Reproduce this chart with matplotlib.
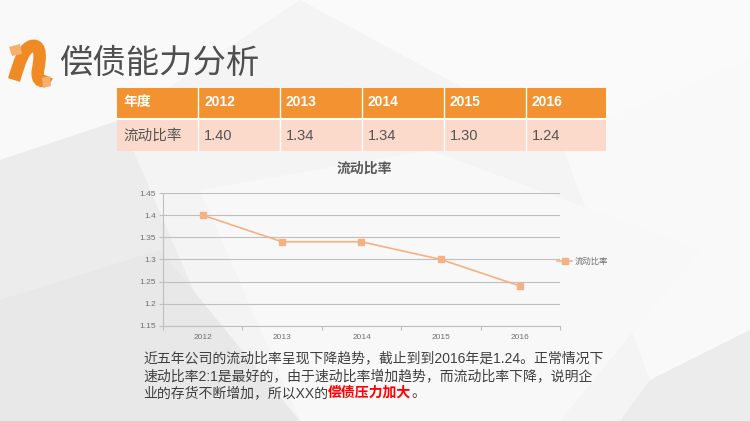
import matplotlib
matplotlib.use("Agg")
import matplotlib.pyplot as plt
from matplotlib.patches import Polygon, Rectangle, PathPatch
from matplotlib.path import Path
from matplotlib.lines import Line2D

plt.rcParams['font.family'] = ['Liberation Sans', 'Noto Sans CJK SC', 'DejaVu Sans']

# ---- data ----
years = ['2012', '2013', '2014', '2015', '2016']
ratio = [1.40, 1.34, 1.34, 1.30, 1.24]
ratio_labels = ['1.40', '1.34', '1.34', '1.30', '1.24']
row_header = '年度'
row_name = '流动比率'
yticks = [1.15, 1.2, 1.25, 1.3, 1.35, 1.4, 1.45]
ytick_labels = ['1.15', '1.2', '1.25', '1.3', '1.35', '1.4', '1.45']
page_title = '偿债能力分析'
chart_title = '流动比率'
para_lines = ['近五年公司的流动比率呈现下降趋势，截止到到2016年是1.24。正常情况下',
              '速动比率2:1是最好的，由于速动比率增加趋势，而流动比率下降，说明企',
              '业的存货不断增加，所以XX的']
para_red = '偿债压力加大'
para_end = '。'

W, H = 750, 421
fig = plt.figure(figsize=(W / 100, H / 100), dpi=100)
fig.patch.set_facecolor('#F4F4F4')

def fx(x):
    return x / W

def fy(y):
    return 1 - y / H

def poly(pts, color, z=0):
    p = Polygon([(fx(a), fy(b)) for a, b in pts], closed=True, transform=fig.transFigure,
                facecolor=color, edgecolor='none', zorder=z)
    fig.add_artist(p)

# background faceted shapes
poly([(0, 0), (300, 0), (120, 120), (0, 160)], '#F9F9F9', -5)
poly([(300, 0), (750, 0), (750, 60), (560, 140)], '#FAFAFA', -5)
poly([(0, 160), (120, 120), (250, 421), (0, 421)], '#ECECEC', -5)
poly([(0, 300), (160, 250), (300, 421), (0, 421)], '#E8E8E8', -5)
poly([(560, 140), (750, 60), (750, 330), (650, 380)], '#F9F9F9', -5)
poly([(650, 380), (750, 330), (750, 421), (620, 421)], '#ECECEC', -5)
poly([(200, 190), (430, 150), (700, 250), (560, 421), (300, 421)], '#F8F8F8', -5)

# logo
verts = [(14, 80), (20, 60), (24, 48), (32, 46), (42, 44), (40, 60), (38, 70), (36, 82), (44, 84), (47, 76)]
codes = [Path.MOVETO, Path.CURVE4, Path.CURVE4, Path.CURVE4, Path.CURVE4, Path.CURVE4, Path.CURVE4,
         Path.CURVE4, Path.CURVE4, Path.CURVE4]
lp = Path([(fx(a), fy(b)) for a, b in verts], codes)
fig.add_artist(PathPatch(lp, transform=fig.transFigure, facecolor='none', edgecolor='#F08A24',
                         lw=9, capstyle='butt', zorder=2))
poly([(9, 47), (20, 44), (22, 54), (12, 56)], '#F5B070', 3)
poly([(42, 78), (50, 76), (51, 86), (43, 88)], '#F5B070', 3)

fig.text(fx(59), fy(64), page_title, fontsize=24, color='#4F4F4F', va='center', ha='left')

# table
col_x = [117, 198, 280, 362, 444, 526, 606]
hdr_top, hdr_bot, row_bot = 88, 119, 151
for i in range(6):
    x0, x1 = col_x[i], col_x[i + 1]
    fig.add_artist(Rectangle((fx(x0), fy(hdr_bot)), fx(x1 - x0), (hdr_bot - hdr_top) / H,
                             transform=fig.transFigure, facecolor='#F39231', edgecolor='none', zorder=2))
    fig.add_artist(Rectangle((fx(x0), fy(row_bot)), fx(x1 - x0), (row_bot - hdr_bot - 1) / H,
                             transform=fig.transFigure, facecolor='#FBDACB', edgecolor='none', zorder=2))
for i in range(1, 6):
    fig.add_artist(Line2D([fx(col_x[i])] * 2, [fy(hdr_top), fy(row_bot)], transform=fig.transFigure,
                          color='white', lw=1, zorder=3))
fig.add_artist(Line2D([fx(col_x[0]), fx(col_x[-1])], [fy(hdr_bot)] * 2, transform=fig.transFigure,
                      color='white', lw=1.5, zorder=3))
hdr = [row_header] + years
row = [row_name] + ratio_labels
for i in range(6):
    fig.text(fx(col_x[i] + 6), fy(102), hdr[i], fontsize=10, fontweight='bold', color='white',
             va='center', ha='left', zorder=4)
    fig.text(fx(col_x[i] + 6), fy(136), row[i], fontsize=10.5, color='#555555',
             va='center', ha='left', zorder=4)

# chart
ax = fig.add_axes([fx(163), fy(326), fx(560 - 163), (326 - 193) / H])
ax.set_facecolor('none')
xs = list(range(len(years)))
ax.plot(xs, ratio, color='#F4B183', lw=1.2, marker='s', markersize=4, label=row_name, zorder=3)
ax.set_xlim(-0.5, len(years) - 0.5)
ax.set_ylim(yticks[0], yticks[-1])
ax.set_yticks(yticks)
ax.set_yticklabels(ytick_labels)
ax.set_xticks(xs)
ax.set_xticklabels(years)
ax.set_xticks([x + 0.5 for x in range(-1, len(years))], minor=True)
ax.tick_params(axis='x', which='major', length=0, labelsize=6, labelcolor='#707070', pad=6)
ax.tick_params(axis='x', which='minor', length=3, color='#BFBFBF', width=0.8)
ax.tick_params(axis='y', length=3, color='#BFBFBF', labelsize=6, labelcolor='#707070', pad=2)
ax.grid(axis='y', color='#BFBFBF', lw=0.8)
for s in ['top', 'right']:
    ax.spines[s].set_visible(False)
ax.spines['left'].set_color('#BFBFBF')
ax.spines['bottom'].set_color('#BFBFBF')
ax.spines['left'].set_linewidth(0.8)
ax.spines['bottom'].set_linewidth(0.8)
leg = ax.legend(loc='center left', bbox_to_anchor=(0.985, 0.48), frameon=False, fontsize=6,
                handlelength=1.8, handletextpad=0.3, borderaxespad=0, labelcolor='#707070')
fig.text(fx(364), fy(169), chart_title, fontsize=10, fontweight='bold', color='#595959',
         ha='center', va='center')

# paragraph
ys = [358, 376, 393]
for t, y in zip(para_lines, ys):
    fig.text(fx(143), fy(y), t, fontsize=10, color='#3F3F3F', va='center', ha='left')
fig.canvas.draw()
r = fig.canvas.get_renderer()
last = fig.texts[-1]
bb = last.get_window_extent(r)
t2 = fig.text(bb.x1 / W, fy(393), para_red, fontsize=10, color='#FF0000', fontweight='bold',
              va='center', ha='left')
bb2 = t2.get_window_extent(r)
fig.text(bb2.x1 / W, fy(393), para_end, fontsize=10, color='#3F3F3F', va='center', ha='left')

fig.savefig('out.png', dpi=100, facecolor=fig.get_facecolor())
